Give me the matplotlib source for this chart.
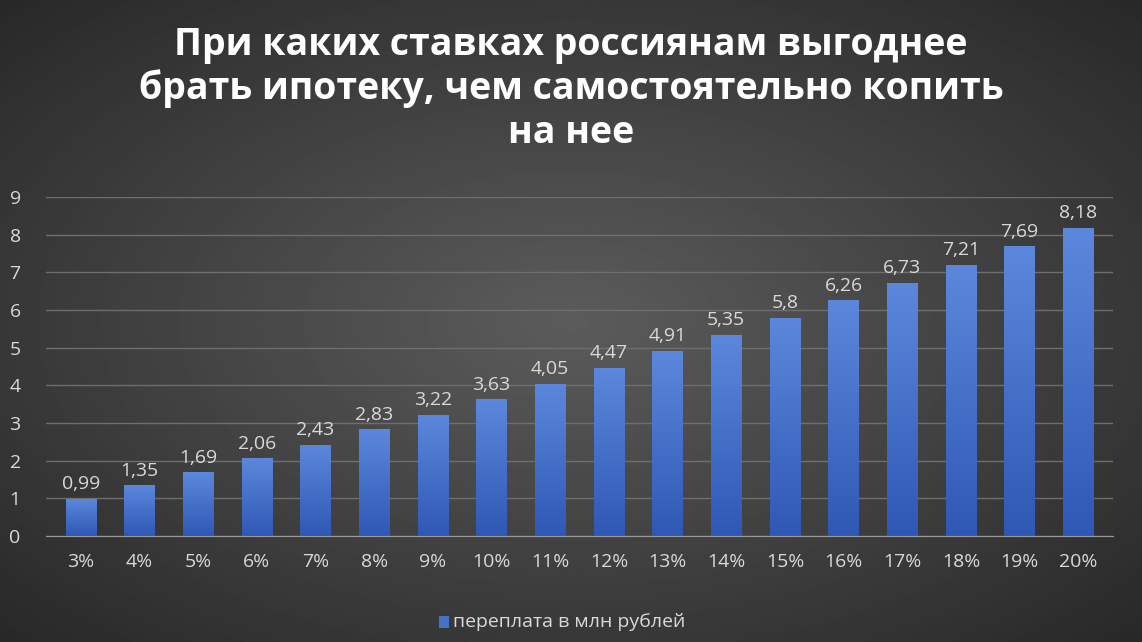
import numpy as np
import matplotlib.pyplot as plt
from matplotlib.patches import Rectangle
from matplotlib.colors import LinearSegmentedColormap

rates = ["3%", "4%", "5%", "6%", "7%", "8%", "9%", "10%", "11%", "12%",
         "13%", "14%", "15%", "16%", "17%", "18%", "19%", "20%"]
overpay = [0.99, 1.35, 1.69, 2.06, 2.43, 2.83, 3.22, 3.63, 4.05, 4.47,
           4.91, 5.35, 5.8, 6.26, 6.73, 7.21, 7.69, 8.18]
labels = ["0,99", "1,35", "1,69", "2,06", "2,43", "2,83", "3,22", "3,63", "4,05", "4,47",
          "4,91", "5,35", "5,8", "6,26", "6,73", "7,21", "7,69", "8,18"]

plt.rcParams["font.family"] = "Open Sans"
fig = plt.figure(figsize=(11.42, 6.42), dpi=100)

# radial dark background
bg = fig.add_axes([0, 0, 1, 1])
yy, xx = np.mgrid[-1:1:300j, -1:1:500j]
r = np.sqrt(xx**2 + yy**2)
bg.imshow(0.36 - 0.2 * np.clip(r / 1.4, 0, 1), cmap="gray", vmin=0, vmax=1,
          aspect="auto", extent=[0, 1, 0, 1])
bg.axis("off")

ax = fig.add_axes([0.04, 0.165, 0.935, 0.528])
ax.set_facecolor("none")
x = np.arange(len(rates))
grad = np.linspace(0, 1, 256).reshape(-1, 1)
cm = LinearSegmentedColormap.from_list("b", ["#5b88dc", "#2f58b5"])
for xi, v, lab in zip(x, overpay, labels):
    rect = Rectangle((xi - 0.26, 0), 0.52, v, facecolor="none", edgecolor="none")
    ax.add_patch(rect)
    im = ax.imshow(grad, cmap=cm, aspect="auto", extent=[xi - 0.26, xi + 0.26, 0, v],
                   origin="upper", zorder=2)
    im.set_clip_path(rect)
    ax.text(xi, v + 0.15, lab, ha="center", va="bottom", color="#d9d9d9", fontsize=14)

ax.set_xlim(-0.6, len(rates) - 0.4)
ax.set_ylim(0, 9)
ax.set_yticks(range(10))
ax.set_xticks(x)
ax.set_xticklabels(rates)
ax.grid(axis="y", color="#6e6e6e", linewidth=1)
ax.set_axisbelow(True)
for s in ["top", "right", "left"]:
    ax.spines[s].set_visible(False)
ax.spines["bottom"].set_color("#9a9a9a")
ax.tick_params(colors="#d9d9d9", labelsize=14, length=0)
ax.tick_params(axis="x", pad=12)
ax.tick_params(axis="y", pad=18)

fig.text(0.5, 0.96, "При каких ставках россиянам выгоднее\nбрать ипотеку, чем самостоятельно копить\nна нее",
         ha="center", va="top", color="white", fontsize=27, fontweight="bold", linespacing=1.2)

fig.patches.append(Rectangle((0.384, 0.022), 0.009, 0.018, transform=fig.transFigure,
                             facecolor="#4472c4", edgecolor="none"))
fig.text(0.397, 0.031, "переплата в млн рублей", ha="left", va="center",
         color="#d9d9d9", fontsize=14)

fig.savefig("out.png", dpi=100)
